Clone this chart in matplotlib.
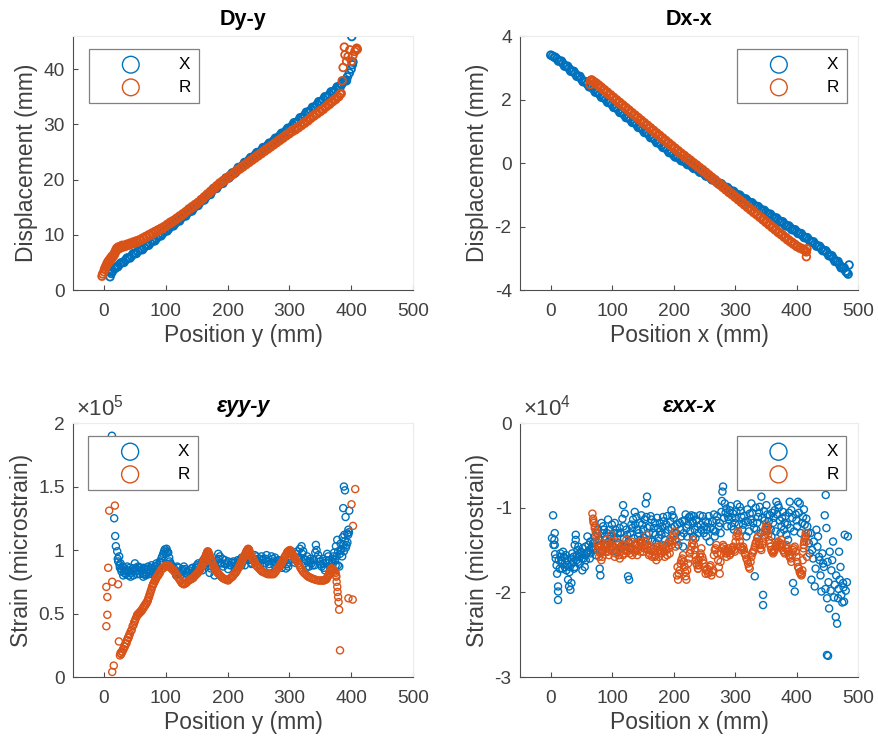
import matplotlib
matplotlib.use("Agg")
import matplotlib.pyplot as plt

plt.rcParams['font.family'] = ['Liberation Sans', 'DejaVu Sans']
plt.rcParams['axes.unicode_minus'] = False
plt.rcParams['mathtext.fontset'] = 'custom'
plt.rcParams['mathtext.rm'] = 'Liberation Sans'
plt.rcParams['mathtext.it'] = 'Liberation Sans:italic'

BLUE = '#0072BD'
ORANGE = '#D95319'
GRAY = '#404040'

# ---------------- Dy-y ----------------
dy_pos_X = [10, 12, 14, 17, 20, 23, 26, 30, 35, 40, 45, 50, 55, 60, 65, 70, 75, 80, 85, 90, 95, 100,
            105, 110, 115, 120, 125, 130, 135, 140, 145, 150, 155, 160, 165, 170, 175, 180, 185, 190,
            195, 200, 205, 210, 215, 220, 225, 230, 235, 240, 245, 250, 255, 260, 265, 270, 275, 280,
            285, 290, 295, 300, 305, 310, 315, 320, 325, 330, 335, 340, 345, 350, 355, 360, 365, 370,
            375, 380, 385, 390, 394, 397, 400, 402, 403, 401,
            12.5, 17.5, 22.5, 27.5, 32.5, 37.5, 42.5, 47.5, 52.5, 57.5, 62.5, 67.5, 72.5, 77.5, 82.5,
            87.5, 92.5, 97.5, 102.5, 107.5, 112.5, 117.5, 122.5, 127.5, 132.5, 137.5, 142.5, 147.5,
            152.5, 157.5, 162.5, 167.5, 172.5, 177.5, 182.5, 187.5, 192.5, 197.5, 202.5, 207.5, 212.5,
            217.5, 222.5, 227.5, 232.5, 237.5, 242.5, 247.5, 252.5, 257.5, 262.5, 267.5, 272.5, 277.5,
            282.5, 287.5, 292.5, 297.5, 302.5, 307.5, 312.5, 317.5, 322.5, 327.5, 332.5, 337.5, 342.5,
            347.5, 352.5, 357.5, 362.5, 367.5, 372.5, 377.5, 382.5, 387.5, 392.5]
dy_disp_X = [2.4, 3.0, 3.4, 3.8, 4.1, 4.4, 4.7, 5.0, 5.4, 5.8, 6.2, 6.6, 7.0, 7.3, 7.7, 8.1, 8.5, 8.9,
             9.3, 9.8, 10.2, 10.7, 11.1, 11.6, 12.0, 12.5, 13.0, 13.4, 13.9, 14.3, 14.8, 15.3, 15.8,
             16.3, 16.8, 17.3, 17.9, 18.4, 18.9, 19.3, 19.8, 20.3, 20.8, 21.2, 21.7, 22.2, 22.6, 23.1,
             23.6, 24.0, 24.5, 24.9, 25.3, 25.8, 26.2, 26.6, 27.1, 27.5, 28.0, 28.4, 28.9, 29.3, 29.8,
             30.3, 30.7, 31.2, 31.7, 32.2, 32.6, 33.1, 33.6, 34.1, 34.5, 35.0, 35.4, 35.9, 36.3, 36.8,
             37.3, 37.9, 38.6, 39.3, 40.0, 40.8, 41.3, 45.9,
             3.3, 4.0, 4.2, 4.9, 5.0, 5.8, 5.8, 6.6, 6.6, 7.4, 7.3, 8.1, 8.1, 8.9, 8.9, 9.8, 9.8, 10.7,
             10.7, 11.6, 11.6, 12.5, 12.5, 13.4, 13.4, 14.3, 14.3, 15.3, 15.3, 16.3, 16.3, 17.3, 17.3,
             18.4, 18.4, 19.3, 19.3, 20.3, 20.3, 21.2, 21.2, 22.2, 22.2, 23.1, 23.1, 24.0, 24.0, 24.9,
             24.9, 25.8, 25.8, 26.6, 26.6, 27.5, 27.5, 28.4, 28.4, 29.3, 29.3, 30.3, 30.3, 31.2, 31.2,
             32.2, 32.2, 33.1, 33.1, 34.1, 34.1, 35.0, 35.0, 35.9, 35.9, 36.8, 36.8, 37.9, 37.9]
dy_pos_R = [-3, -2, 0, 2, 4, 6, 8, 10, 12, 14, 16, 18, 20, 22, 25, 28, 31, 35, 40, 45, 50, 55, 60, 65,
            70, 75, 80, 85, 90, 95, 100, 105, 110, 115, 120, 125, 130, 135, 140, 145, 150, 155, 160,
            165, 170, 175, 180, 185, 190, 195, 200, 205, 210, 215, 220, 225, 230, 235, 240, 245, 250,
            255, 260, 265, 270, 275, 280, 285, 290, 295, 300, 305, 310, 315, 320, 325, 330, 335, 340,
            345, 350, 355, 360, 365, 370, 375, 380, 384,
            385.5, 387, 390, 389, 392.6, 395, 398, 400.6, 403, 406, 408, 409, 410,
            1, 3, 5, 7, 9, 11, 13, 15, 17, 19, 21, 23.5, 26.5, 29.5, 33, 37.5, 42.5, 47.5, 52.5, 57.5,
            62.5, 67.5, 72.5, 77.5, 82.5, 87.5, 92.5, 97.5, 102.5, 107.5, 112.5, 117.5, 122.5, 127.5,
            132.5, 137.5, 142.5, 147.5, 152.5, 157.5, 162.5, 167.5, 172.5, 177.5, 182.5, 187.5, 192.5,
            197.5, 202.5, 207.5, 212.5, 217.5, 222.5, 227.5, 232.5, 237.5, 242.5, 247.5, 252.5, 257.5,
            262.5, 267.5, 272.5, 277.5, 282.5, 287.5, 292.5, 297.5, 302.5, 307.5, 312.5, 317.5, 322.5,
            327.5, 332.5, 337.5, 342.5, 347.5, 352.5, 357.5, 362.5, 367.5, 372.5, 377.5, 382]
dy_disp_R = [2.5, 2.9, 3.3, 3.8, 4.3, 4.7, 5.0, 5.3, 5.6, 5.9, 6.2, 6.6, 7.1, 7.4, 7.5, 7.7, 7.8, 7.9,
             8.1, 8.3, 8.5, 8.7, 9.0, 9.3, 9.6, 9.9, 10.2, 10.5, 10.8, 11.1, 11.5, 11.9, 12.2, 12.6,
             13.0, 13.4, 13.8, 14.3, 14.7, 15.1, 15.5, 16.0, 16.5, 17.0, 17.5, 18.0, 18.5, 19.0, 19.4,
             19.8, 20.2, 20.6, 21.0, 21.5, 21.9, 22.3, 22.7, 23.1, 23.5, 23.9, 24.3, 24.7, 25.1, 25.5,
             25.9, 26.3, 26.7, 27.1, 27.5, 27.9, 28.3, 28.7, 29.0, 29.4, 29.8, 30.2, 30.6, 31.1, 31.5,
             31.9, 32.3, 32.7, 33.2, 33.6, 34.1, 34.5, 35.0, 35.6,
             37.9, 40.3, 42.6, 44.0, 41.4, 42.3, 43.5, 41.4, 42.5, 43.2, 43.5, 43.8, 43.6,
             3.8, 4.3, 4.8, 5.2, 5.5, 5.8, 6.1, 6.3, 6.7, 7.2, 7.6, 7.8, 7.9, 8.1, 8.1, 8.3, 8.5, 8.7,
             8.9, 9.1, 9.4, 9.7, 10.0, 10.3, 10.6, 10.9, 11.2, 11.5, 11.9, 12.3, 12.6, 13.0, 13.4,
             13.8, 14.2, 14.7, 15.1, 15.5, 15.9, 16.4, 16.9, 17.4, 17.9, 18.4, 18.9, 19.4, 19.8, 20.2,
             20.6, 21.0, 21.4, 21.9, 22.3, 22.7, 23.1, 23.5, 23.9, 24.3, 24.7, 25.1, 25.5, 25.9, 26.3,
             26.7, 27.1, 27.5, 27.9, 28.3, 28.7, 29.1, 29.4, 29.8, 30.2, 30.6, 31.0, 31.5, 31.9, 32.3,
             32.7, 33.1, 33.6, 34.0, 34.5, 34.9, 35.5]

# ---------------- Dx-x ----------------
dx_pos_X = [0, 3, 6, 10, 15, 20, 25, 30, 35, 40, 45, 50, 55, 60, 65, 70, 75, 80, 85, 90, 95, 100, 105,
            110, 115, 120, 125, 130, 135, 140, 145, 150, 155, 160, 165, 170, 175, 180, 185, 190, 195,
            200, 205, 210, 215, 220, 225, 230, 235, 240, 245, 250, 255, 260, 265, 270, 275, 280, 285,
            290, 295, 300, 305, 310, 315, 320, 325, 330, 335, 340, 345, 350, 355, 360, 365, 370, 375,
            380, 385, 390, 395, 400, 405, 410, 415, 420, 425, 430, 435, 440, 445, 450, 455, 460, 465,
            470, 475, 480, 484, 485.5,
            7.5, 12.5, 17.5, 22.5, 27.5, 32.5, 37.5, 42.5, 47.5, 52.5, 57.5, 62.5, 67.5, 72.5, 77.5,
            82.5, 87.5, 92.5, 97.5, 102.5, 107.5, 112.5, 117.5, 122.5, 127.5, 132.5, 137.5, 142.5,
            147.5, 152.5, 157.5, 162.5, 167.5, 172.5, 177.5, 182.5, 187.5, 192.5, 197.5, 202.5, 207.5,
            212.5, 217.5, 222.5, 227.5, 232.5, 237.5, 242.5, 247.5, 252.5, 257.5, 262.5, 267.5, 272.5,
            277.5, 282.5, 287.5, 292.5, 297.5, 302.5, 307.5, 312.5, 317.5, 322.5, 327.5, 332.5, 337.5,
            342.5, 347.5, 352.5, 357.5, 362.5, 367.5, 372.5, 377.5, 382.5, 387.5, 392.5, 397.5, 402.5,
            407.5, 412.5, 417.5, 422.5, 427.5, 432.5, 437.5, 442.5, 447.5, 452.5, 457.5, 462.5, 467.5,
            472.5, 477.5, 482]
dx_disp_X = [3.40, 3.37, 3.33, 3.28, 3.21, 3.13, 3.05, 2.97, 2.89, 2.81, 2.73, 2.64, 2.56, 2.48, 2.40,
             2.32, 2.23, 2.15, 2.07, 1.99, 1.91, 1.83, 1.75, 1.67, 1.59, 1.51, 1.43, 1.36, 1.28, 1.20,
             1.12, 1.04, 0.96, 0.88, 0.80, 0.72, 0.64, 0.56, 0.49, 0.41, 0.33, 0.25, 0.19, 0.13, 0.07,
             0.01, -0.05, -0.11, -0.17, -0.23, -0.29, -0.35, -0.41, -0.47, -0.53, -0.59, -0.65, -0.71,
             -0.77, -0.83, -0.89, -0.95, -1.01, -1.07, -1.13, -1.19, -1.25, -1.31, -1.37, -1.43, -1.49,
             -1.55, -1.61, -1.67, -1.73, -1.79, -1.85, -1.92, -1.98, -2.04, -2.10, -2.16, -2.22, -2.29,
             -2.35, -2.42, -2.48, -2.55, -2.62, -2.69, -2.76, -2.83, -2.92, -3.01, -3.10, -3.20, -3.30,
             -3.41, -3.50, -3.21,
             3.33, 3.21, 3.21, 3.05, 3.05, 2.89, 2.89, 2.73, 2.73, 2.56, 2.56, 2.40, 2.40, 2.23, 2.23,
             2.07, 2.07, 1.91, 1.91, 1.75, 1.75, 1.59, 1.59, 1.43, 1.43, 1.28, 1.28, 1.12, 1.12, 0.96,
             0.96, 0.80, 0.80, 0.64, 0.64, 0.49, 0.49, 0.33, 0.33, 0.19, 0.19, 0.07, 0.07, -0.05, -0.05,
             -0.17, -0.17, -0.29, -0.29, -0.41, -0.41, -0.53, -0.53, -0.65, -0.65, -0.77, -0.77, -0.89,
             -0.89, -1.01, -1.01, -1.13, -1.13, -1.25, -1.25, -1.37, -1.37, -1.49, -1.49, -1.61, -1.61,
             -1.73, -1.73, -1.85, -1.85, -1.98, -1.98, -2.10, -2.10, -2.22, -2.22, -2.35, -2.35, -2.48,
             -2.48, -2.62, -2.62, -2.76, -2.76, -2.92, -2.92, -3.10, -3.10, -3.30, -3.30, -3.45]
dx_pos_R = [64, 65, 68, 72, 76, 80, 85, 90, 95, 100, 105, 110, 115, 120, 125, 130, 135, 140, 145, 150,
            155, 160, 165, 170, 175, 180, 185, 190, 195, 200, 205, 210, 215, 220, 225, 230, 235, 240,
            245, 250, 255, 260, 265, 270, 275, 280, 285, 290, 295, 300, 305, 310, 315, 320, 325, 330,
            335, 340, 345, 350, 355, 360, 365, 370, 375, 380, 385, 390, 395, 400, 405, 410, 414, 416,
            416, 417,
            66.5, 70, 74, 78, 82.5, 87.5, 92.5, 97.5, 102.5, 107.5, 112.5, 117.5, 122.5, 127.5, 132.5,
            137.5, 142.5, 147.5, 152.5, 157.5, 162.5, 167.5, 172.5, 177.5, 182.5, 187.5, 192.5, 197.5,
            202.5, 207.5, 212.5, 217.5, 222.5, 227.5, 232.5, 237.5, 242.5, 247.5, 252.5, 257.5, 262.5,
            267.5, 272.5, 277.5, 282.5, 287.5, 292.5, 297.5, 302.5, 307.5, 312.5, 317.5, 322.5, 327.5,
            332.5, 337.5, 342.5, 347.5, 352.5, 357.5, 362.5, 367.5, 372.5, 377.5, 382.5, 387.5, 392.5,
            397.5, 402.5, 407.5, 412]
dx_disp_R = [2.47, 2.60, 2.57, 2.52, 2.46, 2.39, 2.31, 2.23, 2.15, 2.07, 1.99, 1.91, 1.83, 1.75, 1.67,
             1.59, 1.51, 1.43, 1.35, 1.27, 1.19, 1.11, 1.03, 0.95, 0.87, 0.79, 0.71, 0.63, 0.55, 0.47,
             0.39, 0.31, 0.24, 0.16, 0.09, 0.01, -0.06, -0.14, -0.21, -0.29, -0.37, -0.45, -0.53, -0.61,
             -0.69, -0.77, -0.85, -0.93, -1.00, -1.08, -1.16, -1.24, -1.32, -1.40, -1.48, -1.56, -1.63,
             -1.71, -1.79, -1.87, -1.95, -2.03, -2.11, -2.19, -2.26, -2.34, -2.42, -2.49, -2.56, -2.63,
             -2.68, -2.72, -2.76, -2.80, -2.95, -2.70,
             2.62, 2.57, 2.52, 2.46, 2.39, 2.31, 2.23, 2.15, 2.07, 1.99, 1.91, 1.83, 1.75, 1.67, 1.59,
             1.51, 1.43, 1.35, 1.27, 1.19, 1.11, 1.03, 0.95, 0.87, 0.79, 0.71, 0.63, 0.55, 0.47, 0.39,
             0.31, 0.24, 0.16, 0.09, 0.01, -0.06, -0.14, -0.21, -0.29, -0.37, -0.45, -0.53, -0.61,
             -0.69, -0.77, -0.85, -0.93, -1.00, -1.08, -1.16, -1.24, -1.32, -1.40, -1.48, -1.56, -1.63,
             -1.71, -1.79, -1.87, -1.95, -2.03, -2.11, -2.19, -2.26, -2.34, -2.42, -2.49, -2.56, -2.63,
             -2.68, -2.72]

# ---------------- eps_yy-y (values in units of 1e5 microstrain) ----------------
eyy_pos_X = [13, 16.7, 18.3, 19.4, 21.6, 24.8, 23.2, 27, 30.2, 28.6, 31.3, 34, 37.8, 41, 43.2, 46.4,
             50.2, 52.9, 55.6, 58.3, 61, 63.7, 66.3, 69, 71.7, 74.4, 77.1, 79.8, 82.5, 85.2, 87.9, 90.6,
             93.3, 96, 98.7, 101.4, 104.1, 105.7, 107.9, 111.1, 114.9, 118.7, 121.9, 125.7, 129.5, 133.8,
             138.1, 141.9, 145.6, 148.9, 152.7, 156.4, 160.7, 165, 168.8, 172.6, 176.9, 181.2, 185,
             187.7, 190.4, 193.1, 198.5, 203.9, 209.3, 214.7, 220.1, 225.5, 230.9, 236.3, 241.7, 247.1,
             249.7, 255.1, 260.5, 263.2, 265.9, 271.3, 274, 279.4, 284.7, 290.1, 294.5, 298.2, 300.9,
             303.6, 306.3, 311.7, 317.1, 319.8, 322.5, 325.2, 329, 332.2, 336, 339.8, 343, 344.1, 346.8,
             349.5, 352.2, 354.9, 357.6, 361.3, 364.6, 368.4, 371.1, 373.8, 375.4, 377.5, 379.1, 380.8,
             381.8, 382.9, 384.5, 386.2, 388.3, 390, 392.6, 393.7, 395.3, 396.4, 391, 387.2, 397, 388.3,
             390,
             26, 33, 40, 48, 57, 65, 73, 81, 89, 95, 109, 117, 127, 136, 144, 151, 159, 163, 171, 179,
             196, 201, 207, 212, 218, 223, 228, 233, 239, 244, 253, 258, 268, 277, 282, 288, 296, 309,
             314, 327, 334, 341, 355, 359, 366, 370, 375,
             22.5, 25.5, 28, 32.5, 35.5, 38.5, 42, 44.5, 47.5, 51.5, 54, 56.5, 59.5, 62.5, 64.5, 67.5,
             70.5, 73, 76, 78.5, 81, 84, 86.5, 89, 92, 94.5, 97.5, 100, 102.5, 106.5, 109.5, 113, 116.5,
             120, 123.5, 128, 131.5, 135.5, 140, 143.5, 147, 150.5, 154.5, 158.5, 162.5, 166.5, 170.5,
             174.5, 178.5, 183, 186, 189, 192, 195.5, 201, 206, 211.5, 216.5, 222.5, 226.5, 232.5,
             234.5, 238.5, 245, 251.5, 257, 262, 267.5, 273, 276, 281.5, 286.5, 292, 296.5, 302, 308,
             313, 315.5, 321, 324, 327, 331, 334, 338, 342, 348, 351, 356, 359.5, 363, 366.5, 369.5,
             372.5, 376.5, 378.5, 383.5, 385.5, 387.5, 389, 391.5, 394, 395.5]
eyy_val_X = [1.90, 1.25, 1.11, 1.03, 0.99, 0.95, 0.91, 0.895, 0.87, 0.83, 0.80, 0.84, 0.87, 0.83, 0.79,
             0.855, 0.895, 0.83, 0.87, 0.81, 0.84, 0.79, 0.855, 0.82, 0.87, 0.83, 0.88, 0.84, 0.87, 0.895,
             0.855, 0.91, 0.935, 0.97, 1.005, 1.01, 0.98, 0.94, 0.895, 0.855, 0.83, 0.87, 0.82, 0.84,
             0.87, 0.82, 0.84, 0.855, 0.83, 0.87, 0.895, 0.855, 0.92, 0.95, 0.895, 0.855, 0.91, 0.855,
             0.97, 0.95, 0.895, 0.87, 0.895, 0.88, 0.91, 0.88, 0.92, 0.91, 0.99, 0.93, 0.92, 0.95,
             0.91, 0.95, 0.895, 0.96, 0.91, 0.95, 0.91, 0.895, 0.92, 0.895, 0.855, 0.87, 0.92,
             0.99, 0.95, 0.97, 1.01, 1.03, 0.99, 0.895, 0.95, 0.87, 0.895, 0.92, 1.04, 1.00, 0.96,
             0.91, 0.87, 0.895, 0.84, 0.97, 0.92, 0.895, 0.95, 0.92, 1.03, 1.08, 0.99, 0.87,
             0.97, 1.05, 1.01, 1.10, 0.99, 1.07, 1.04, 1.13, 1.12, 1.14, 1.26, 1.33, 1.31, 1.50,
             1.47,
             0.86, 0.82, 0.80, 0.84, 0.86, 0.81, 0.85, 0.82, 0.86, 0.90, 0.88, 0.80, 0.85, 0.80, 0.82,
             0.86, 0.84, 0.88, 0.82, 0.80, 0.92, 0.85, 0.90, 0.86, 0.90, 0.94, 0.88, 0.95, 0.89, 0.96,
             0.88, 0.93, 0.87, 0.94, 0.92, 0.86, 0.89, 0.90, 0.94, 0.86, 0.91, 0.88, 0.93, 0.90, 0.86,
             0.93, 0.88,
             0.93, 0.88, 0.85, 0.86, 0.81, 0.84, 0.86, 0.82, 0.80, 0.86, 0.81, 0.84, 0.86, 0.82, 0.86,
             0.80, 0.85, 0.81, 0.86, 0.81, 0.85, 0.82, 0.88, 0.86, 0.90, 0.95, 0.99, 0.97, 0.99, 0.91,
             0.87, 0.86, 0.82, 0.86, 0.80, 0.83, 0.85, 0.83, 0.80, 0.86, 0.82, 0.88, 0.84, 0.90, 0.93,
             0.97, 0.90, 0.87, 0.89, 0.92, 0.93, 0.90, 0.93, 0.89, 0.91, 0.88, 0.90, 0.92, 0.88, 0.93,
             0.96, 0.92, 0.90, 0.93, 0.93, 0.92, 0.93, 0.89, 0.93, 0.88, 0.91, 0.88, 0.91, 0.89, 0.95,
             0.93, 0.99, 0.94, 0.97, 0.93, 0.92, 0.91, 0.93, 0.88, 0.98, 0.93, 0.89, 0.86, 0.92, 0.95,
             0.86, 0.91, 0.98, 0.95, 0.88, 1.00, 0.95, 1.04, 1.12, 1.02, 1.06, 1.16]
eyy_pos_R = [26, 28, 30, 32, 34, 36.6, 38, 40, 42, 45, 48, 50, 53, 55, 57, 59, 61, 63, 65, 67, 69, 71,
             73, 75, 77, 79, 81, 83, 85, 88, 90.6, 94, 97, 101, 105, 108, 111, 114.5, 118, 122, 126,
             129.4, 133, 137, 141, 144.5, 148, 152, 155, 157, 159, 161, 163, 165, 166.5, 168, 170, 172,
             174, 177, 179, 181, 184, 188, 192, 196, 201, 205, 208, 211, 214.5, 218, 220, 222, 224, 226,
             228, 230, 232, 233.5, 235, 237, 240, 242, 244.7, 248, 252, 256, 261, 265, 270, 274.5, 278,
             282, 285, 287.5, 290, 293, 296, 298, 301, 304, 306, 308, 311, 314, 318, 322, 326, 330.6,
             335, 340, 346.6, 352, 356, 360, 362, 364, 366, 368, 370, 372, 375, 376, 376.5, 377.6, 378,
             379, 379.7, 380.6,
             382, 395.6, 402.5, 403, 400.6, 406.6,
             8.6, 17.8, 7, 23, 13.5, 4, 5.6, 5.6, 4, 24.3, 16, 13.5,
             27, 29, 31, 33, 35, 37.5, 39, 41, 43.5, 46.5, 49, 51.5, 54, 56, 58, 60, 62, 64, 66, 68, 70,
             72, 74, 76, 78, 80, 82, 84, 86.5, 89, 92, 95.5, 99, 103, 106.5, 109.5, 112.5, 116, 120, 124,
             127.5, 131, 135, 139, 142.5, 146, 150, 153.5, 156, 158, 160, 162, 164, 165.8, 167.2, 169,
             171, 173, 175.5, 178, 180, 182.5, 186, 190, 194, 198.5, 203, 206.5, 209.5, 213, 216, 219,
             221, 223, 225, 227, 229, 231, 232.8, 234.3, 236, 238.5, 241, 243.3, 246.3, 250, 254, 258.5,
             263, 267.5, 272, 276, 280, 283.5, 286.3, 288.8, 291.5, 294.5, 297, 299.5, 302.5, 305, 307,
             309.5, 312.5, 316, 320, 324, 328.3, 332.8, 337.5, 343, 349.3, 354, 358, 361, 363, 365, 367,
             369, 371, 373.5, 375.5]
eyy_val_R = [0.17, 0.18, 0.20, 0.22, 0.24, 0.265, 0.29, 0.31, 0.34, 0.37, 0.41, 0.44, 0.475, 0.49,
             0.50, 0.51, 0.52, 0.535, 0.55, 0.565, 0.58, 0.60, 0.63, 0.66, 0.69, 0.72, 0.74, 0.76, 0.78,
             0.80, 0.82, 0.85, 0.86, 0.875, 0.87, 0.86, 0.845, 0.83, 0.80, 0.77, 0.74, 0.73, 0.74, 0.76,
             0.77, 0.78, 0.80, 0.82, 0.84, 0.86, 0.88, 0.905, 0.93, 0.955, 0.975, 0.99, 0.97, 0.945,
             0.92, 0.88, 0.86, 0.84, 0.82, 0.80, 0.78, 0.77, 0.76, 0.78, 0.79, 0.81, 0.83, 0.86, 0.88,
             0.90, 0.92, 0.94, 0.96, 0.98, 1.00, 1.01, 1.00, 0.97, 0.94, 0.92, 0.895, 0.87, 0.85, 0.83,
             0.82, 0.81, 0.81, 0.81, 0.83, 0.86, 0.88, 0.895, 0.92, 0.95, 0.975, 0.99, 1.00, 0.98, 0.96,
             0.94, 0.92, 0.895, 0.86, 0.83, 0.81, 0.79, 0.78, 0.77, 0.76, 0.76, 0.76, 0.77, 0.79, 0.81,
             0.835, 0.855, 0.85, 0.84, 0.82, 0.79, 0.75, 0.71, 0.67, 0.63, 0.59, 0.53,
             0.21, 0.62, 0.61, 1.19, 1.36, 1.48,
             1.31, 1.35, 0.86, 0.73, 0.75, 0.71, 0.63, 0.49, 0.40, 0.28, 0.09, 0.04,
             0.19, 0.20, 0.22, 0.24, 0.26, 0.29, 0.31, 0.33, 0.36, 0.40, 0.43, 0.46, 0.49, 0.50, 0.51,
             0.52, 0.535, 0.55, 0.565, 0.58, 0.595, 0.62, 0.65, 0.68, 0.71, 0.735, 0.755, 0.775, 0.795,
             0.815, 0.84, 0.86, 0.875, 0.88, 0.87, 0.855, 0.84, 0.815, 0.785, 0.755, 0.735, 0.735, 0.75,
             0.765, 0.775, 0.79, 0.81, 0.83, 0.85, 0.87, 0.89, 0.92, 0.945, 0.965, 0.985, 0.985, 0.96,
             0.93, 0.90, 0.87, 0.85, 0.83, 0.81, 0.79, 0.775, 0.765, 0.77, 0.785, 0.80, 0.82, 0.845,
             0.87, 0.89, 0.91, 0.93, 0.95, 0.97, 0.99, 1.005, 1.005, 0.985, 0.955, 0.93, 0.91, 0.88,
             0.86, 0.84, 0.825, 0.815, 0.81, 0.81, 0.82, 0.845, 0.87, 0.89, 0.91, 0.935, 0.96, 0.985,
             0.995, 0.99, 0.97, 0.95, 0.93, 0.91, 0.88, 0.845, 0.82, 0.80, 0.785, 0.775, 0.765, 0.76,
             0.76, 0.765, 0.78, 0.80, 0.82, 0.845, 0.855, 0.845, 0.83, 0.80]

# ---------------- eps_xx-x (values in units of 1e4 microstrain) ----------------
exx_pos_X = [3.8, 6.5, 5.9, 6.5, 8.1, 10.3, 11.9, 11.9, 11.9, 15.7, 17.4, 21.2, 22.8, 19, 25.5, 28.2,
             29.8, 32, 33.6, 36.3, 39, 41.8, 40.7, 40.7, 39, 46.1, 47.2, 49.9, 51.5, 53.7, 55.3, 58,
             59.7, 62.4, 63.5, 66.2, 68.9, 71.6, 77, 79.7, 80.8, 82.4, 85.2, 87.9, 90.6, 93.3, 96, 98.7,
             102.5, 104.1, 107.9, 112.3, 116.6, 117.7, 120.4, 123.1, 124.2, 125.8, 127.5, 131.2, 134,
             136.7, 139.4, 142.1, 144.8, 147.5, 150.2, 154.6, 156.7, 155.7, 158.4, 161.1, 163.8, 166.5,
             169.2, 171.9, 174.7, 177.4, 180.1, 182.8, 185.5, 188.2, 196.4, 198, 201.8, 204.5, 209.9,
             212.6, 215.3, 218, 220.8, 225.1, 228.9, 231.6, 234.3, 237,
             226.2, 231.6, 237, 242.5, 245.2, 250.6, 253.3, 256, 258.7, 264.2, 266.9, 269.6, 275, 277.7,
             279.4, 280.4, 283.2, 285.9, 288.6, 291.3, 294, 296.7, 299.4, 302.1, 307.6, 310.3, 313,
             318.4, 321.1, 323.8, 326.5, 329.3, 332, 334.7, 337.4, 340.1, 342.8, 345.5, 345.5, 348.2,
             351, 353.7, 356.4, 359.1, 361.8, 364.5, 367.2, 369.9, 372.6, 375.4, 378.1, 380.8, 383.5,
             386.2, 388.9, 391.6, 394.3, 397.1, 399.8, 402.5, 405.2, 410.6, 413.3, 416, 418.8, 421.5,
             424.2, 426.9, 429.6, 432.3, 435, 437.7, 440.5, 443.2, 445.9, 447.5, 448.6, 449.7, 451.3,
             453, 454, 456.7, 459.4, 462.2, 463.8, 466, 467.6, 469.2, 470.3, 473, 475.7, 477.3, 478.4,
             2, 4.5, 7, 9.5, 13, 14.5, 16, 18, 20, 23.5, 24.5, 26.5, 27, 30.5, 31, 33, 34.5, 35, 37, 38,
             42.5, 43.5, 44.5, 45, 48.5, 50.5, 52, 54.5, 56.5, 57, 60.5, 61.5, 64.5, 65, 67.5, 70, 72.5,
             73.5, 75.5, 76, 78.5, 81.5, 83.5, 84, 86.5, 89, 91.5, 94.5, 97, 99.5, 100.5, 103, 105.5,
             106.5, 109, 110.5, 113.5, 114.5, 118.5, 119, 121.5, 126.5, 129.5, 130, 132.5, 135, 137.5,
             138.5, 141, 143.5, 146, 148.5, 151.5, 152.5, 157.5, 160, 162.5, 164.5, 167.5, 170.5, 173,
             175.5, 178.5, 181.5, 184, 186.5, 189.5, 191, 193, 194.5, 197, 200, 203, 206, 207.5, 211,
             214, 216.5, 219.5, 222, 223.5, 227, 230, 233, 235.5, 238.5, 240.5, 244, 247.5, 249, 252,
             254.5, 257, 260, 262.5, 265.5, 268, 271, 273.5, 276.5, 278.5, 282, 284.5, 287, 290, 292.5,
             295.5, 298, 301, 303.5, 306, 309, 311.5, 314.5, 317, 320, 322.5, 325, 328, 331, 333.5, 336,
             339, 341.5, 344, 347, 350, 352.5, 355, 358, 360.5, 363, 366, 368.5, 371, 374, 376.5, 379.5,
             382, 385, 387.5, 390, 393, 396, 398.5, 401, 404, 407, 409, 412, 415, 417.5, 420, 423,
             425.5, 428, 431, 434, 436.5, 439, 442, 444.5, 447, 450.5, 452, 455.5, 458, 461, 464.5,
             468.5, 471.5, 474.5, 476.5, 480, 482, 483.5, 449.5]
exx_val_X = [-1.09, -1.30, -1.38, -1.44, -1.60, -1.78, -1.93, -1.99, -2.09, -1.54, -1.62, -1.58, -1.70,
             -1.72, -1.74, -1.85, -1.93, -1.97, -1.89, -1.64, -1.70, -1.62, -1.32, -1.38, -1.44, -1.58,
             -1.66, -1.54, -1.74, -1.60, -1.70, -1.54, -1.34, -1.50, -1.60, -1.48, -1.42, -1.34, -1.26,
             -1.72, -1.80, -1.18, -1.22, -1.34, -1.44, -1.14, -1.26, -1.40, -1.30, -1.18, -1.36, -1.24,
             -1.13, -0.97, -1.07, -1.26, -1.32, -1.81, -1.85, -1.20, -1.14, -1.05, -1.11, -1.34, -1.18,
             -1.09, -1.26, -0.95, -0.87, -1.11, -1.38, -1.22, -1.14, -1.30, -1.18, -1.42, -1.24, -1.18,
             -1.32, -1.11, -1.38, -1.20, -1.03, -1.09, -1.22, -1.30, -1.18, -1.34, -1.46, -1.15, -1.24,
             -1.11, -1.09, -1.34, -1.26, -1.15,
             -1.11, -1.18, -1.15, -1.09, -1.26, -1.22, -1.34, -1.18, -1.40, -1.26, -1.34, -1.15, -1.18,
             -1.05, -0.81, -0.75, -0.95, -1.01, -1.11, -1.03, -1.22, -1.07, -1.18, -1.05, -0.99, -1.11,
             -1.20, -1.34, -1.17, -1.07, -0.95, -1.18, -1.81, -1.26, -1.11, -0.99, -0.87, -2.03, -2.15,
             -1.15, -0.97, -1.22, -1.09, -1.34, -1.18, -1.03, -0.93, -0.97, -1.15, -1.22, -1.05, -1.18,
             -1.32, -1.38, -0.93, -1.03, -1.89, -1.99, -1.15, -0.93, -0.95, -1.11, -1.20, -1.13, -1.30,
             -1.54, -1.85, -1.60, -1.93, -1.26, -1.34, -1.62, -1.99, -1.66, -1.09, -0.85, -1.24, -2.07,
             -2.75, -2.19, -1.52, -1.74, -1.40, -1.91, -2.29, -2.37, -2.07, -1.52, -1.85, -2.03, -1.89,
             -2.11, -1.32,
             -1.36, -1.44, -1.55, -1.68, -1.62, -1.72, -1.58, -1.66, -1.52, -1.60, -1.56, -1.68, -1.62,
             -1.76, -1.70, -1.60, -1.66, -1.54, -1.58, -1.72, -1.56, -1.50, -1.64, -1.46, -1.52, -1.60,
             -1.48, -1.56, -1.46, -1.62, -1.52, -1.44, -1.40, -1.54, -1.46, -1.50, -1.40, -1.56, -1.30,
             -1.46, -1.38, -1.44, -1.30, -1.52, -1.26, -1.38, -1.30, -1.40, -1.34, -1.20, -1.46, -1.36,
             -1.26, -1.52, -1.30, -1.42, -1.30, -1.46, -1.22, -1.36, -1.46, -1.40, -1.30, -1.48, -1.24,
             -1.36, -1.20, -1.44, -1.26, -1.30, -1.38, -1.20, -1.36, -1.14, -1.24, -1.30, -1.10, -1.40,
             -1.24, -1.32, -1.12, -1.36, -1.28, -1.22, -1.16, -1.30, -1.10, -1.26, -1.40, -1.16, -1.24,
             -1.12, -1.38, -1.20, -1.44, -1.26, -1.16, -1.30, -1.08, -1.34, -1.20, -1.28, -1.16, -1.10,
             -1.36, -1.22, -1.30, -1.20, -1.10, -1.30, -1.16, -1.26, -1.10, -1.24, -1.16, -1.08, -1.28,
             -1.10, -1.22, -1.30, -0.92, -1.12, -1.06, -1.22, -1.14, -0.98, -1.12, -1.26, -1.12, -0.96,
             -1.20, -1.04, -1.26, -1.10, -1.16, -1.02, -1.28, -1.14, -1.06, -1.24, -1.00, -1.18, -1.06,
             -1.30, -1.12, -1.04, -1.26, -1.08, -1.16, -1.26, -1.06, -1.12, -1.28, -1.08, -1.00, -1.30,
             -1.12, -1.26, -1.10, -1.20, -1.06, -1.24, -1.12, -1.28, -1.08, -1.22, -1.06, -1.30, -1.18,
             -1.02, -1.34, -1.22, -1.42, -1.30, -1.50, -1.40, -1.72, -1.46, -1.58, -1.80, -1.54, -1.70,
             -1.96, -1.64, -1.88, -1.98, -1.62, -2.06, -1.80, -1.96, -1.70, -2.12, -1.94, -1.98, -1.88,
             -1.34, -2.74]
exx_pos_R = [67.8, 68.9, 70, 71.6, 73.2, 74.3, 75.4, 77, 78.6, 80.8, 82.4, 85.2, 87.9, 90.6, 93.3, 96,
             98.7, 101.4, 104.1, 106.8, 109.6, 112.3, 115, 117.7, 120.4, 123.1, 125.8, 128.5, 131.2,
             134, 136.7, 139.4, 142.1, 144.8, 147.5, 150.2, 152.9, 155.7, 158.4, 161.1, 163.8, 166.5,
             169.2, 171.9, 174.7, 177.4, 180.1, 182.8, 185.5, 188.2, 190.9, 193.6, 196.4, 199.1, 201.8,
             204.5, 205.6, 207.2, 209.9, 212.6, 215.3, 218, 219.7, 220.8, 223.5, 226.2, 228.9, 231.6,
             234.3, 237, 239.7, 241.4,
             237, 239.8, 242.5, 245.2, 247.9, 250.6, 253.3, 256, 258.7, 261.5, 264.2, 266.9, 269.6,
             272.3, 275, 277.7, 280.4, 283.2, 285.9, 288.6, 291.3, 294, 296.7, 299.4, 302.1, 304.8,
             307.6, 310.3, 313, 315.7, 318.4, 321.1, 323.8, 326.5, 329.3, 332, 334.7, 337.4, 340.1,
             342.8, 345.5, 348.2, 351, 352, 353.7, 356.4, 359.1, 361.8, 364.5, 367.2, 369.9, 372.6,
             375.4, 378.1, 380.8, 383.5, 386.2, 388.9, 391.6, 394.3, 397.1, 399.8, 402.5, 405.2, 407.9,
             409.5, 410.6, 411.7, 413.3, 415, 417.1,
             69.5, 72, 74.8, 76, 79.5, 81.5, 84, 86.5, 89.2, 92, 94.6, 97.4, 100, 102.8, 105.5, 108.2,
             111, 113.6, 116.3, 119, 121.7, 124.5, 127.2, 129.8, 132.6, 135.3, 138, 140.7, 143.5, 146.1,
             148.8, 151.6, 154.3, 157, 159.8, 162.5, 165.1, 167.9, 170.6, 173.3, 176, 178.7, 181.4,
             184.1, 186.8, 189.6, 192.2, 195, 197.7, 200.5, 203, 206.4, 208.5, 211.3, 214, 216.6, 218.8,
             222, 224.8, 227.5, 230.2, 233, 235.6, 238.3, 241, 243.8, 246.5, 249.2, 252, 254.6, 257.3,
             260, 262.8, 265.5, 268.2, 271, 273.6, 276.3, 279, 281.8, 284.5, 287.2, 290, 292.6, 295.3,
             298, 300.8, 303.4, 306.2, 309, 311.6, 314.4, 317, 319.8, 322.5, 325.2, 327.9, 330.6, 333.4,
             336, 338.8, 341.4, 344.2, 346.8, 349.6, 352.6, 355, 357.8, 360.4, 363.2, 365.8, 368.6,
             371.2, 374, 376.7, 379.4, 382.2, 384.8, 387.6, 390.2, 393, 395.7, 398.4, 401.2, 403.8,
             406.6, 408.7, 410, 411.2, 412.5, 414.2, 416]
exx_val_R = [-1.07, -1.13, -1.18, -1.24, -1.28, -1.34, -1.40, -1.50, -1.58, -1.54, -1.62, -1.50, -1.44,
             -1.38, -1.52, -1.46, -1.32, -1.50, -1.58, -1.40, -1.50, -1.60, -1.48, -1.56, -1.50, -1.38,
             -1.46, -1.54, -1.40, -1.48, -1.52, -1.42, -1.50, -1.40, -1.46, -1.52, -1.44, -1.32, -1.50,
             -1.54, -1.46, -1.52, -1.58, -1.62, -1.52, -1.46, -1.54, -1.48, -1.58, -1.50, -1.42, -1.54,
             -1.44, -1.32, -1.28, -1.40, -1.80, -1.85, -1.74, -1.62, -1.56, -1.70, -1.81, -1.85, -1.66,
             -1.54, -1.46, -1.38, -1.50, -1.62, -1.72, -1.68,
             -1.66, -1.72, -1.58, -1.48, -1.62, -1.70, -1.74, -1.78, -1.70, -1.80, -1.74, -1.50, -1.44,
             -1.62, -1.78, -1.54, -1.44, -1.50, -1.58, -1.48, -1.56, -1.50, -1.46, -1.52, -1.34, -1.28,
             -1.40, -1.50, -1.46, -1.54, -1.60, -1.66, -1.72, -1.58, -1.52, -1.46, -1.40, -1.34, -1.44,
             -1.50, -1.40, -1.28, -1.20, -1.24, -1.32, -1.42, -1.50, -1.54, -1.50, -1.44, -1.40, -1.46,
             -1.38, -1.50, -1.54, -1.44, -1.52, -1.58, -1.64, -1.50, -1.46, -1.58, -1.70, -1.76, -1.80,
             -1.74, -1.52, -1.44, -1.36, -1.30, -1.58,
             -1.16, -1.22, -1.30, -1.44, -1.46, -1.52, -1.58, -1.46, -1.52, -1.42, -1.56, -1.50, -1.40,
             -1.46, -1.54, -1.44, -1.56, -1.52, -1.44, -1.54, -1.44, -1.52, -1.42, -1.50, -1.56, -1.44,
             -1.50, -1.56, -1.46, -1.52, -1.42, -1.48, -1.40, -1.44, -1.56, -1.50, -1.58, -1.48, -1.56,
             -1.46, -1.58, -1.50, -1.44, -1.52, -1.46, -1.56, -1.48, -1.38, -1.40, -1.34, -1.46, -1.70,
             -1.78, -1.66, -1.60, -1.64, -1.76, -1.74, -1.60, -1.50, -1.42, -1.44, -1.56, -1.68, -1.62,
             -1.54, -1.58, -1.66, -1.78, -1.72, -1.76, -1.68, -1.76, -1.56, -1.48, -1.54, -1.70, -1.64,
             -1.48, -1.46, -1.54, -1.52, -1.52, -1.54, -1.48, -1.50, -1.40, -1.30, -1.34, -1.46, -1.48,
             -1.50, -1.56, -1.62, -1.70, -1.64, -1.54, -1.50, -1.42, -1.36, -1.40, -1.48, -1.44, -1.34,
             -1.24, -1.28, -1.38, -1.46, -1.52, -1.52, -1.46, -1.42, -1.44, -1.42, -1.44, -1.52, -1.48,
             -1.48, -1.56, -1.60, -1.56, -1.48, -1.52, -1.64, -1.72, -1.78, -1.78, -1.62, -1.48, -1.40,
             -1.34, -1.40]

x_ticks = [0, 100, 200, 300, 400, 500]

fig = plt.figure(figsize=(8.79, 7.49), dpi=100)
rects = [[0.0830, 0.6128, 0.3868, 0.3391], [0.5916, 0.6128, 0.3845, 0.3391],
         [0.0830, 0.0961, 0.3868, 0.3391], [0.5916, 0.0961, 0.3845, 0.3391]]

S = 26
LW = 1.0
S_D = 30
LW_D = 1.3


def style(ax, xlabel, ylabel, title, title_style='normal'):
    ax.set_xlim(-50, 500)
    ax.set_xticks(x_ticks)
    for side in ['left', 'bottom']:
        ax.spines[side].set_color('#4d4d4d')
        ax.spines[side].set_linewidth(0.8)
    for side in ['top', 'right']:
        ax.spines[side].set_color('#ececec')
        ax.spines[side].set_linewidth(0.8)
    ax.tick_params(direction='in', length=3.5, width=0.8, colors='#4d4d4d',
                   labelcolor=GRAY, labelsize=13.8, top=False, right=False)
    ax.tick_params(axis='x', pad=9)
    ax.tick_params(axis='y', pad=6)
    ax.set_xlabel(xlabel, fontsize=16.5, color=GRAY, labelpad=3)
    ax.set_ylabel(ylabel, fontsize=16.5, color=GRAY, labelpad=4)
    ax.set_title(title, fontsize=15.5, fontweight='bold', style=title_style, pad=8)


def legend(ax, x0, ms):
    leg = ax.legend(loc='upper left', bbox_to_anchor=(x0, 0.947), borderaxespad=0,
                    fontsize=12.3, markerscale=ms, handlelength=4.0, handletextpad=0.8,
                    borderpad=0.45, labelspacing=0.45, fancybox=False, framealpha=1,
                    edgecolor='#808080', scatterpoints=1)
    leg.get_frame().set_linewidth(0.9)
    leg.set_zorder(10)
    for h in leg.legend_handles:
        h.set_linewidth(1.0)
    return leg


# Dy-y
ax = fig.add_axes(rects[0])
ax.scatter(dy_pos_X, dy_disp_X, s=S_D, facecolors='none', edgecolors=BLUE, linewidths=LW_D, label='X')
ax.scatter(dy_pos_R, dy_disp_R, s=S_D, facecolors='none', edgecolors=ORANGE, linewidths=LW_D, label='R')
ax.set_ylim(0, 46)
ax.set_yticks([0, 10, 20, 30, 40])
style(ax, 'Position y (mm)', 'Displacement (mm)', 'Dy-y')
legend(ax, 0.047, 2.2)

# Dx-x
ax = fig.add_axes(rects[1])
ax.scatter(dx_pos_X, dx_disp_X, s=S_D, facecolors='none', edgecolors=BLUE, linewidths=LW_D, label='X')
ax.scatter(dx_pos_R, dx_disp_R, s=S_D, facecolors='none', edgecolors=ORANGE, linewidths=LW_D, label='R')
ax.set_ylim(-4, 4)
ax.set_yticks([-4, -2, 0, 2, 4])
style(ax, 'Position x (mm)', 'Displacement (mm)', 'Dx-x')
legend(ax, 0.642, 2.2)

# eps yy
ax = fig.add_axes(rects[2])
ax.scatter(eyy_pos_X, eyy_val_X, s=S, facecolors='none', edgecolors=BLUE, linewidths=LW, label='X')
ax.scatter(eyy_pos_R, eyy_val_R, s=S, facecolors='none', edgecolors=ORANGE, linewidths=LW, label='R')
ax.set_ylim(0, 2)
ax.set_yticks([0, 0.5, 1, 1.5, 2])
ax.set_yticklabels(['0', '0.5', '1', '1.5', '2'])
style(ax, 'Position y (mm)', 'Strain (microstrain)', 'εyy-y', 'italic')
ax.text(0.008, 1.03, r'$\mathregular{\times10^{5}}$', transform=ax.transAxes, fontsize=16,
        color=GRAY, ha='left', va='baseline')
legend(ax, 0.045, 2.4)

# eps xx
ax = fig.add_axes(rects[3])
ax.scatter(exx_pos_X, exx_val_X, s=S, facecolors='none', edgecolors=BLUE, linewidths=LW, label='X')
ax.scatter(exx_pos_R, exx_val_R, s=S, facecolors='none', edgecolors=ORANGE, linewidths=LW, label='R')
ax.set_ylim(-3, 0)
ax.set_yticks([-3, -2, -1, 0])
ax.set_yticklabels(['-3', '-2', '-1', '0'])
style(ax, 'Position x (mm)', 'Strain (microstrain)', 'εxx-x', 'italic')
ax.text(0.008, 1.03, r'$\mathregular{\times10^{4}}$', transform=ax.transAxes, fontsize=16,
        color=GRAY, ha='left', va='baseline')
legend(ax, 0.641, 2.4)

fig.savefig('out.png', dpi=100)
